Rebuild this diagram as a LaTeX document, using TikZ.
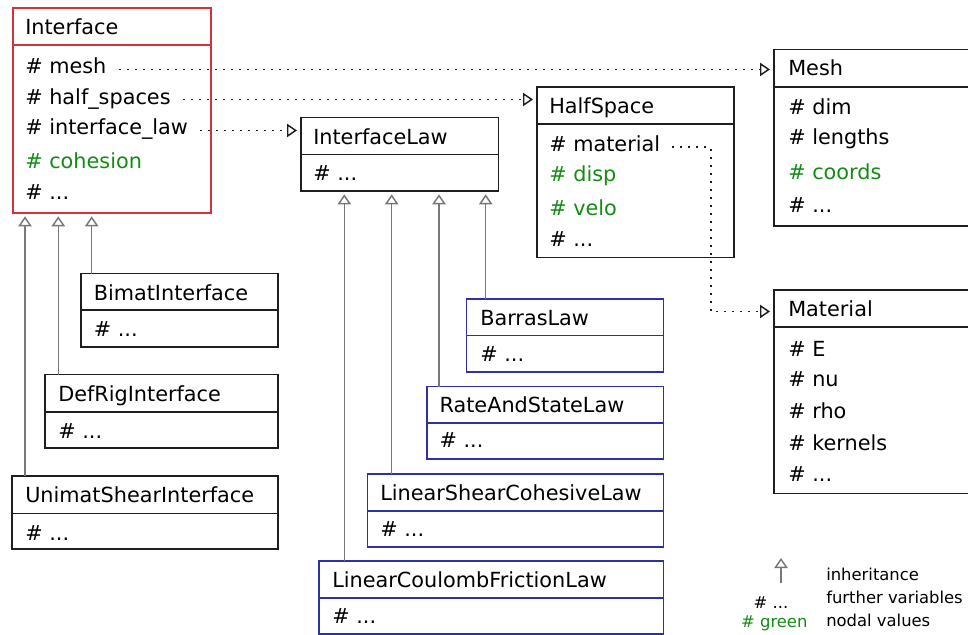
\documentclass[tikz,border=0pt]{standalone}
\usepackage{fontspec}
\setmainfont{DejaVu Sans}
\usetikzlibrary{arrows.meta,fit}

\definecolor{ifred}{RGB}{208,52,58}
\definecolor{lawblue}{RGB}{48,48,165}
\definecolor{nodalgreen}{RGB}{20,140,20}
\definecolor{inhgray}{RGB}{120,120,120}
\definecolor{frame}{RGB}{30,30,30}

% class box: name, left, top, right, bottom, separator y, colour
\newcommand\umlbox[7]{%
  \node[box, draw=#7, fit={(#2,#3) (#4,#5)}] (#1) {};
  \draw[line width=1.1pt, draw=#7] (#1.west |- 0,#6) -- (#1.east |- 0,#6);
}

\begin{document}
\begin{tikzpicture}[x=0.75pt,y=-0.75pt,
  box/.style={line width=1.1pt, inner sep=0pt, outer sep=0pt},
  row/.style={anchor=base west, inner sep=0pt, text height=0.76em, text depth=0.08em,
    font=\fontsize{15.6}{18}\selectfont},
  nodal/.style={row, text=nodalgreen},
  inh/.style={draw=inhgray, line width=1.1pt,
    -{Triangle[open, length=7.5pt, width=10pt]}, shorten >=2.5pt},
  dep/.style={draw=frame, line width=1.1pt, dash pattern=on 1.5pt off 4.5pt,
    -{Triangle[open, length=7.5pt, width=10pt]}, shorten <=9pt, shorten >=3pt},
  legend/.style={anchor=base west, inner sep=0pt, font=\fontsize{12.3}{14}\selectfont}
]
\useasboundingbox (0,0) rectangle (968,635);
\clip (0,0) rectangle (968,635);

% ---------- class boxes ----------
\umlbox{iface}{13}{8}{211}{213}{45}{ifred}
\umlbox{mesh}{774}{49.5}{990}{226}{87}{frame}
\umlbox{hs}{537}{87}{734}{257.5}{124}{frame}
\umlbox{ilaw}{301}{117.5}{498.5}{191}{154.5}{frame}
\umlbox{mat}{774}{290}{990}{493.5}{327}{frame}
\umlbox{bimat}{81}{273.5}{278}{347}{310}{frame}
\umlbox{defrig}{45}{374.5}{278}{448}{412}{frame}
\umlbox{unimat}{12}{476}{278}{549}{513.5}{frame}
\umlbox{barras}{466.5}{299}{663.5}{372}{335.5}{lawblue}
\umlbox{rands}{427}{386.5}{663.5}{459}{423}{lawblue}
\umlbox{lsc}{367.5}{474}{663.5}{547}{511}{lawblue}
\umlbox{lcf}{319}{561}{663.5}{634}{598}{lawblue}

% ---------- texts ----------
% Interface
\node[row] (iftitle) at (25,35) {Interface};
\node[row] (ifmesh) at (25,74) {\# mesh};
\node[row] (ifhalf) at (25,104) {\# half\_spaces};
\node[row] (iflaw) at (25,135) {\# interface\_law};
\node[nodal] (ifcoh) at (25,168) {\# cohesion};
\node[row] (ifmore) at (25,199) {\# ...};
% Mesh
\node[row] (meshtitle) at (788,76) {Mesh};
\node[row] (meshdim) at (788,114) {\# dim};
\node[row] (meshlen) at (788,145) {\# lengths};
\node[nodal] (meshcoords) at (788,179.3) {\# coords};
\node[row] (meshmore) at (788,212.3) {\# ...};
% HalfSpace
\node[row] (hstitle) at (549,113.3) {HalfSpace};
\node[row] (hsmat) at (549,151.7) {\# material};
\node[nodal] (hsdisp) at (549,181.7) {\# disp};
\node[nodal] (hsvelo) at (549,215) {\# velo};
\node[row] (hsmore) at (549,246.7) {\# ...};
% InterfaceLaw
\node[row] (ilawtitle) at (313,144) {InterfaceLaw};
\node[row] (ilawmore) at (313,180.7) {\# ...};
% Material
\node[row] (mattitle) at (788,316) {Material};
\node[row] (matE) at (788,356) {\# E};
\node[row] (matnu) at (788,386.7) {\# nu};
\node[row] (matrho) at (788,418.3) {\# rho};
\node[row] (matker) at (788,450.7) {\# kernels};
\node[row] (matmore) at (788,481.7) {\# ...};
% Interface subclasses
\node[row] (bimattitle) at (93.5,300) {BimatInterface};
\node[row] (bimatmore) at (93.5,336.7) {\# ...};
\node[row] (defrigtitle) at (58,401) {DefRigInterface};
\node[row] (defrigmore) at (58,438.3) {\# ...};
\node[row] (unimattitle) at (25,502.7) {UnimatShearInterface};
\node[row] (unimatmore) at (25,540) {\# ...};
% InterfaceLaw subclasses
\node[row] (barrastitle) at (480,325.3) {BarrasLaw};
\node[row] (barrasmore) at (480,361) {\# ...};
\node[row] (randstitle) at (439.3,412.7) {RateAndStateLaw};
\node[row] (randsmore) at (439.3,447.3) {\# ...};
\node[row] (lsctitle) at (380,500) {LinearShearCohesiveLaw};
\node[row] (lscmore) at (380,536.7) {\# ...};
\node[row] (lcftitle) at (332,587.3) {LinearCoulombFrictionLaw};
\node[row] (lcfmore) at (332,623.3) {\# ...};

% ---------- associations ----------
\draw[dep] (ifmesh.east) -- (mesh.west |- ifmesh.east);
\draw[dep] (ifhalf.east) -- (hs.west |- ifhalf.east);
\draw[dep] (iflaw.east) -- (ilaw.west |- iflaw.east);
\coordinate (matbend) at (711,0);
\draw[dep] (hsmat.east) -| (matbend |- mattitle.west) -- (mat.west |- mattitle.west);

% ---------- inheritance ----------
\draw[inh] (bimat.north -| 91.7,0) -- (iface.south -| 91.7,0);
\draw[inh] (defrig.north -| 58.3,0) -- (iface.south -| 58.3,0);
\draw[inh] (unimat.north -| 25,0) -- (iface.south -| 25,0);
\draw[inh] (barras.north -| 485.7,0) -- (ilaw.south -| 485.7,0);
\draw[inh] (rands.north -| 439,0) -- (ilaw.south -| 439,0);
\draw[inh] (lsc.north -| 391.7,0) -- (ilaw.south -| 391.7,0);
\draw[inh] (lcf.north -| 344.3,0) -- (ilaw.south -| 344.3,0);

% ---------- legend ----------
\coordinate (legbot) at (781,583);
\coordinate (legtop) at (781,558);
\draw[inh, shorten >=0pt] (legbot) -- (legtop);
\node[legend] (leginh) at (826,580) {inheritance};
\node[legend] (legfur) at (826,603.3) {further variables};
\node[legend] (legnod) at (826,626) {nodal values};
\node[legend, anchor=base] (leghash) at (771,608.3) {\# ...};
\node[legend, anchor=base, text=nodalgreen] (leggreen) at (774.3,627.3) {\# green};
\end{tikzpicture}
\end{document}
